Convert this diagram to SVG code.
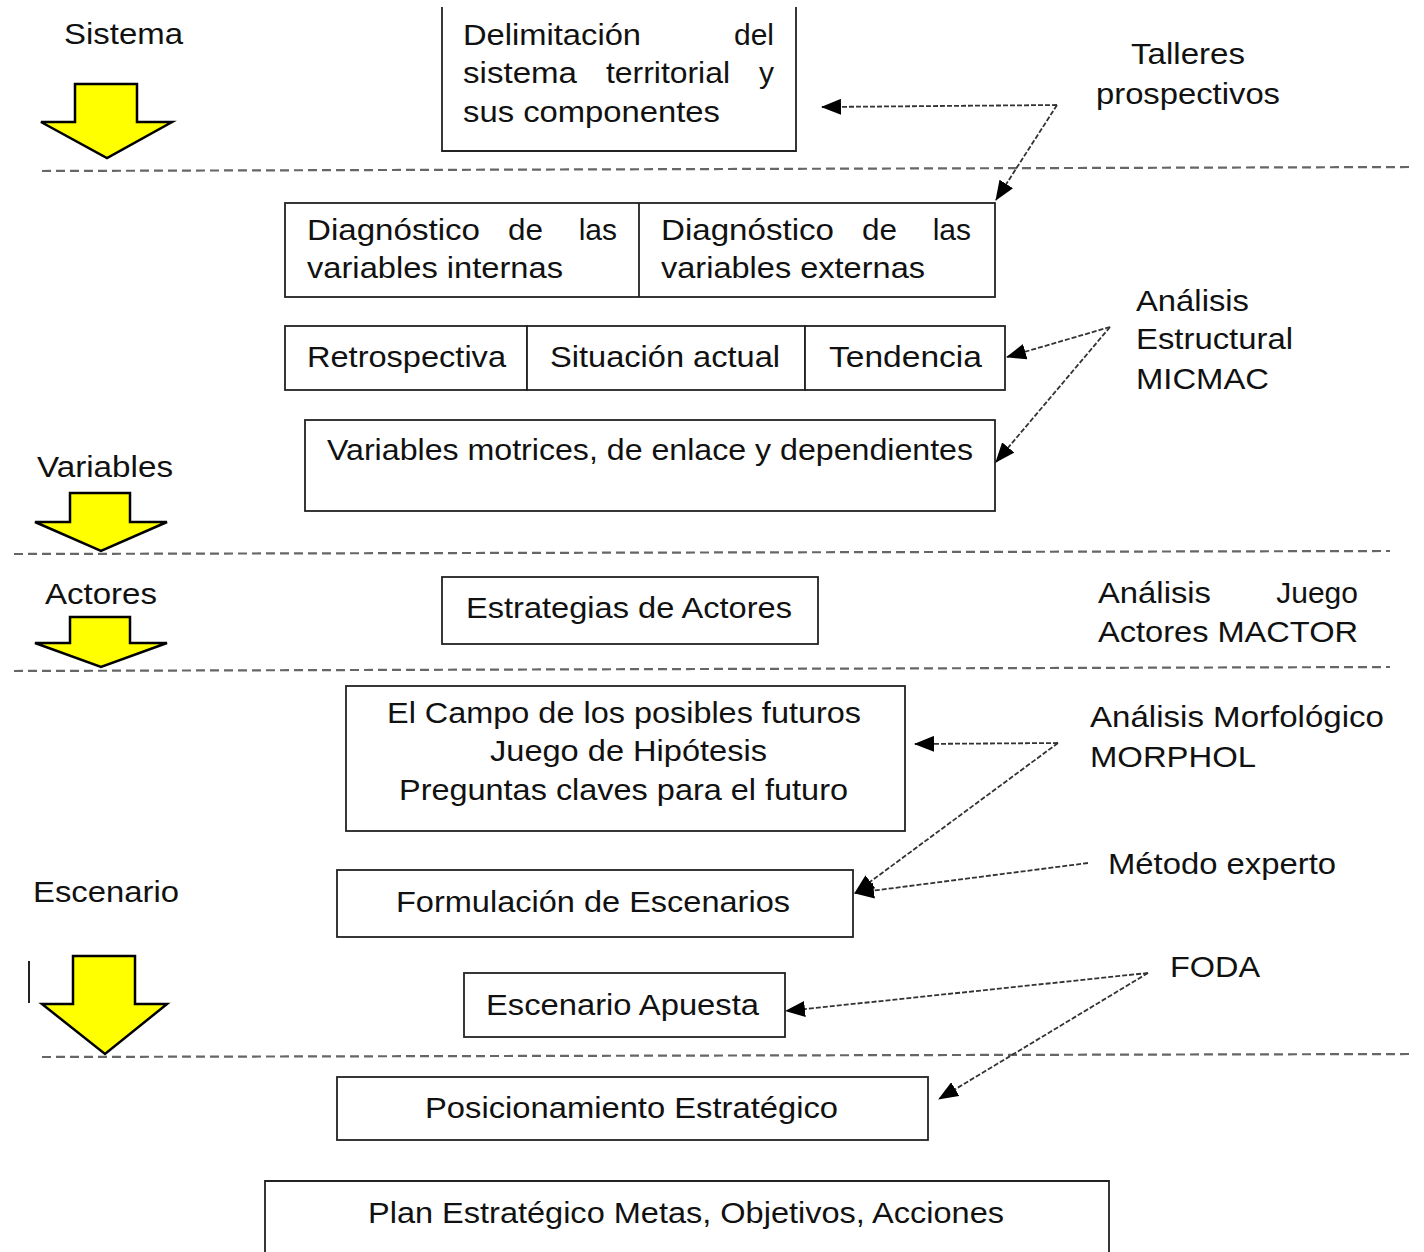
<svg xmlns="http://www.w3.org/2000/svg" width="1424" height="1252" viewBox="0 0 1424 1252">
<defs>
<style>
text{font-family:"Liberation Sans",Arial,sans-serif;font-size:30px;fill:#111}
.box{fill:#fff;stroke:#222;stroke-width:1.8}
.sep{stroke:#666;stroke-width:2.2;stroke-dasharray:9 5;fill:none}
.con{stroke:#333;stroke-width:1.8;stroke-dasharray:5 2;fill:none;marker-end:url(#ah)}
.big{fill:#ffff00;stroke:#000;stroke-width:2.5;stroke-linejoin:miter}
</style>
<marker id="ah" markerUnits="userSpaceOnUse" markerWidth="20" markerHeight="16" refX="19" refY="8" orient="auto" viewBox="0 0 20 16">
<path d="M0,0 L20,8 L0,16 z" fill="#000"/>
</marker>
</defs>
<rect width="1424" height="1252" fill="#fff"/>

<g id="separators">
<line class="sep" x1="42" y1="171" x2="1414" y2="167"/>
<line class="sep" x1="14" y1="554" x2="1390" y2="551"/>
<line class="sep" x1="14" y1="671" x2="1390" y2="667"/>
<line class="sep" x1="42" y1="1057" x2="1414" y2="1054"/>
</g>

<g id="stage-arrows">
<polygon class="big" points="75,84 137,84 137,122 172,122 107,158 41,122 75,122"/>
<polygon class="big" points="70,493 130,493 130,522 167,522 101,551 35,522 70,522"/>
<polygon class="big" points="70,617 130,617 130,643 167,643 101,667 35,643 70,643"/>
<polygon class="big" points="73,956 135,956 135,1004 167,1004 105,1054 42,1004 73,1004"/>
<line x1="29" y1="961" x2="29" y2="1003" stroke="#222" stroke-width="2"/>
</g>

<g id="stage-labels">
<text x="64" y="44" font-size="32" textLength="119" lengthAdjust="spacingAndGlyphs">Sistema</text>
<text x="37" y="477" textLength="136" lengthAdjust="spacingAndGlyphs">Variables</text>
<text x="45" y="604" textLength="112" lengthAdjust="spacingAndGlyphs">Actores</text>
<text x="33" y="902" textLength="146" lengthAdjust="spacingAndGlyphs">Escenario</text>
</g>

<g id="node-delimitacion">
<path class="box" d="M442,7 V151 H796 V7"/>
<text x="463" y="45" textLength="178" lengthAdjust="spacingAndGlyphs">Delimitación</text>
<text x="774" y="45" text-anchor="end">del</text>
<text x="463" y="83" textLength="114" lengthAdjust="spacingAndGlyphs">sistema</text>
<text x="606" y="83" textLength="124" lengthAdjust="spacingAndGlyphs">territorial</text>
<text x="774" y="83" text-anchor="end">y</text>
<text x="463" y="122" textLength="257" lengthAdjust="spacingAndGlyphs">sus componentes</text>
</g>

<g id="node-diagnostico">
<rect class="box" x="285" y="203" width="710" height="94"/>
<line x1="639" y1="203" x2="639" y2="297" stroke="#222" stroke-width="1.8"/>
<text x="307" y="240" textLength="173" lengthAdjust="spacingAndGlyphs">Diagnóstico</text>
<text x="508" y="240" textLength="35" lengthAdjust="spacingAndGlyphs">de</text>
<text x="617" y="240" text-anchor="end">las</text>
<text x="307" y="278" textLength="256" lengthAdjust="spacingAndGlyphs">variables internas</text>
<text x="661" y="240" textLength="173" lengthAdjust="spacingAndGlyphs">Diagnóstico</text>
<text x="862" y="240" textLength="35" lengthAdjust="spacingAndGlyphs">de</text>
<text x="971" y="240" text-anchor="end">las</text>
<text x="661" y="278" textLength="264" lengthAdjust="spacingAndGlyphs">variables externas</text>
</g>

<g id="node-retrospectiva">
<rect class="box" x="285" y="326" width="242" height="64"/>
<text x="307" y="367" textLength="199" lengthAdjust="spacingAndGlyphs">Retrospectiva</text>
</g>
<g id="node-situacion">
<rect class="box" x="527" y="326" width="278" height="64"/>
<text x="550" y="367" textLength="230" lengthAdjust="spacingAndGlyphs">Situación actual</text>
</g>
<g id="node-tendencia">
<rect class="box" x="805" y="326" width="200" height="64"/>
<text x="829" y="367" textLength="153" lengthAdjust="spacingAndGlyphs">Tendencia</text>
</g>

<g id="node-variables">
<rect class="box" x="305" y="420" width="690" height="91"/>
<text x="327" y="460" textLength="646" lengthAdjust="spacingAndGlyphs">Variables motrices, de enlace y dependientes</text>
</g>

<g id="node-estrategias">
<rect class="box" x="442" y="577" width="376" height="67"/>
<text x="466" y="618" textLength="326" lengthAdjust="spacingAndGlyphs">Estrategias de Actores</text>
</g>

<g id="node-campo">
<rect class="box" x="346" y="686" width="559" height="145"/>
<text x="387" y="723" textLength="474" lengthAdjust="spacingAndGlyphs">El Campo de los posibles futuros</text>
<text x="490" y="761" textLength="277" lengthAdjust="spacingAndGlyphs">Juego de Hipótesis</text>
<text x="399" y="800" textLength="449" lengthAdjust="spacingAndGlyphs">Preguntas claves para el futuro</text>
</g>

<g id="node-formulacion">
<rect class="box" x="337" y="870" width="516" height="67"/>
<text x="396" y="912" textLength="394" lengthAdjust="spacingAndGlyphs">Formulación de Escenarios</text>
</g>

<g id="node-apuesta">
<rect class="box" x="464" y="973" width="321" height="64"/>
<text x="486" y="1015" textLength="273" lengthAdjust="spacingAndGlyphs">Escenario Apuesta</text>
</g>

<g id="node-posicionamiento">
<rect class="box" x="337" y="1077" width="591" height="63"/>
<text x="425" y="1118" textLength="413" lengthAdjust="spacingAndGlyphs">Posicionamiento Estratégico</text>
</g>

<g id="node-plan">
<path class="box" d="M265,1252 V1181 H1109 V1252"/>
<text x="368" y="1223" textLength="636" lengthAdjust="spacingAndGlyphs">Plan Estratégico Metas, Objetivos, Acciones</text>
</g>

<g id="tool-talleres">
<text x="1131" y="64" textLength="114" lengthAdjust="spacingAndGlyphs">Talleres</text>
<text x="1096" y="104" textLength="184" lengthAdjust="spacingAndGlyphs">prospectivos</text>
</g>
<g id="tool-micmac">
<text x="1136" y="311" textLength="113" lengthAdjust="spacingAndGlyphs">Análisis</text>
<text x="1136" y="349" textLength="157" lengthAdjust="spacingAndGlyphs">Estructural</text>
<text x="1136" y="389" textLength="133" lengthAdjust="spacingAndGlyphs">MICMAC</text>
</g>
<g id="tool-mactor">
<text x="1098" y="603" textLength="113" lengthAdjust="spacingAndGlyphs">Análisis</text>
<text x="1358" y="603" text-anchor="end">Juego</text>
<text x="1098" y="642" textLength="260" lengthAdjust="spacingAndGlyphs">Actores MACTOR</text>
</g>
<g id="tool-morphol">
<text x="1090" y="727" textLength="294" lengthAdjust="spacingAndGlyphs">Análisis  Morfológico</text>
<text x="1090" y="767" textLength="166" lengthAdjust="spacingAndGlyphs">MORPHOL</text>
</g>
<g id="tool-experto">
<text x="1108" y="874" textLength="228" lengthAdjust="spacingAndGlyphs">Método experto</text>
</g>
<g id="tool-foda">
<text x="1170" y="977" textLength="90" lengthAdjust="spacingAndGlyphs">FODA</text>
</g>

<g id="connectors">
<path class="con" d="M1057,105 L822,107"/>
<path class="con" d="M1057,105 L996,200"/>
<path class="con" d="M1110,327 L1007,357"/>
<path class="con" d="M1110,327 L996,462"/>
<path class="con" d="M1058,743 L915,744"/>
<path class="con" d="M1058,743 L855,893"/>
<path class="con" d="M1088,863 L855,893"/>
<path class="con" d="M1148,973 L786,1011"/>
<path class="con" d="M1148,973 L939,1099"/>
</g>
</svg>
